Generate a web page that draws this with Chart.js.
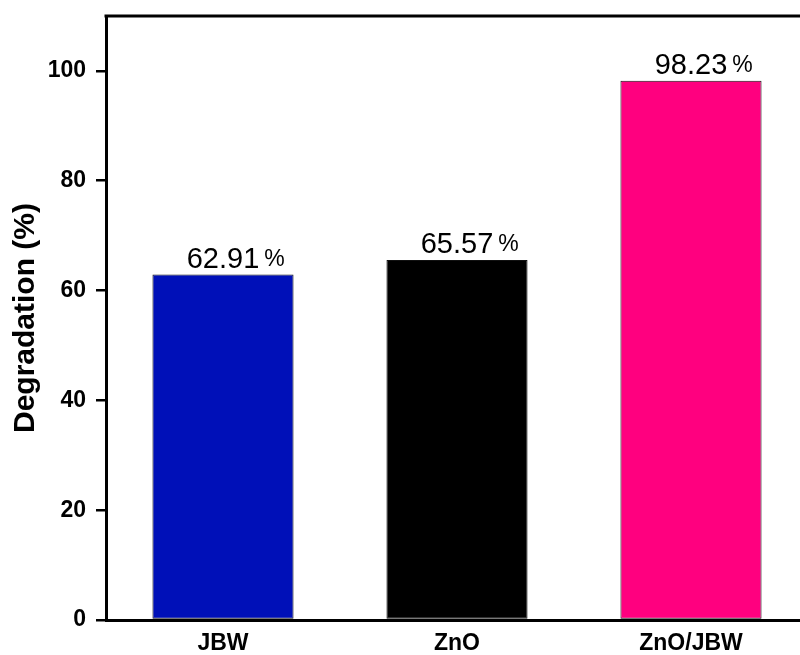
<!DOCTYPE html>
<html lang="en">
  <head>
    <meta charset="UTF-8" />
    <title>Degradation</title>
    <script src="https://cdn.jsdelivr.net/npm/chart.js"></script>
    <style>
      html,
      body {
        margin: 0;
        padding: 0;
        background: #fff;
        overflow: hidden;
      }
      .grafico {
        width: 812px;
        height: 655px;
      }
    </style>
  </head>
  <body>
    <div class="grafico">
      <canvas id="degradacaoCanvas" width="812" height="655"></canvas>
    </div>

    <script>
      // dados
      const amostras = ["JBW", "ZnO", "ZnO/JBW"];
      const degradacao = [62.91, 65.57, 98.23];
      const ticksY = [0, 20, 40, 60, 80, 100];

      const coresBarras = ["#0010b8", "#000000", "#ff007f"];
      const fonte = "Arial, 'Liberation Sans', sans-serif";

      // linha de cima do quadro + rótulos de valor em cima das barras
      const quadroERotulos = {
        id: "quadroERotulos",
        afterDraw(chart) {
          const ctx = chart.ctx;
          const area = chart.chartArea;

          ctx.save();
          ctx.strokeStyle = "#000";
          ctx.lineWidth = 3;
          ctx.beginPath();
          ctx.moveTo(area.left - 1.5, area.top);
          ctx.lineTo(area.right, area.top);
          ctx.stroke();

          const meta = chart.getDatasetMeta(0);
          meta.data.forEach((barra, i) => {
            const numero = degradacao[i].toFixed(2);
            ctx.fillStyle = "#000";
            ctx.textBaseline = "alphabetic";

            ctx.font = `29px ${fonte}`;
            ctx.textAlign = "center";
            const base = barra.y - 7;
            ctx.fillText(numero, barra.x, base);
            const larg = ctx.measureText(numero).width;

            ctx.font = `23px ${fonte}`;
            ctx.textAlign = "left";
            ctx.fillText("%", barra.x + larg / 2 + 5, base - 2);
          });
          ctx.restore();
        },
      };

      const ctx = document.getElementById("degradacaoCanvas");

      new Chart(ctx, {
        type: "bar",
        data: {
          labels: amostras,
          datasets: [
            {
              label: "Degradation (%)",
              data: degradacao,
              backgroundColor: coresBarras,
              borderColor: "#111",
              borderWidth: 1,
              borderSkipped: false,
              barPercentage: 0.603,
              categoryPercentage: 1,
            },
          ],
        },
        options: {
          responsive: false,
          animation: false,
          layout: {
            padding: { top: 16, right: 4, left: 0, bottom: 0 },
          },
          plugins: {
            legend: { display: false },
            tooltip: { enabled: false },
          },
          scales: {
            x: {
              grid: { display: false, drawTicks: false },
              border: { color: "#000", width: 3 },
              ticks: {
                color: "#000",
                padding: 10,
                font: { family: fonte, size: 23, weight: "bold" },
              },
              afterFit(eixo) {
                eixo.height = 35;
                eixo.paddingLeft = 0;
                eixo.paddingRight = 0;
              },
            },
            y: {
              min: 0,
              max: 110,
              afterBuildTicks(eixo) {
                eixo.ticks = ticksY.map((v) => ({ value: v }));
              },
              grid: {
                drawOnChartArea: false,
                drawTicks: true,
                tickLength: 10,
                color: "#000",
                lineWidth: 2.5,
              },
              border: { color: "#000", width: 3 },
              ticks: {
                color: "#000",
                padding: 10,
                font: { family: fonte, size: 23, weight: "bold" },
              },
              title: {
                display: true,
                text: "Degradation (%)",
                color: "#000",
                padding: { top: 8, bottom: 0 },
                font: { family: fonte, size: 30, weight: "bold" },
              },
              afterFit(eixo) {
                eixo.width = 106;
                eixo.paddingTop = 0;
                eixo.paddingBottom = 0;
              },
            },
          },
        },
        plugins: [quadroERotulos],
      });
    </script>
  </body>
</html>
